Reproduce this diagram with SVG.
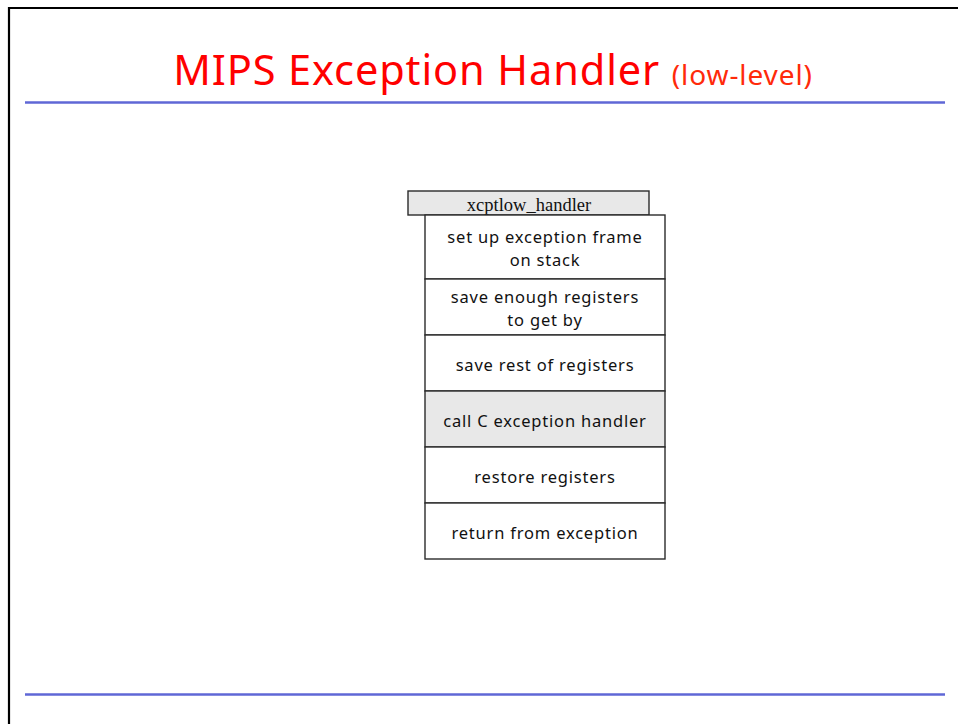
<svg xmlns="http://www.w3.org/2000/svg" width="958" height="724" viewBox="0 0 958 724">
  <style>
    .cell { fill: #ffffff; stroke: #2b2b2b; stroke-width: 1.4; }
    .cell.shade { fill: #e8e8e8; }
    .label { font-family: "Comic Sans MS", "Noto Sans", "DejaVu Sans", sans-serif; font-size: 16.5px; letter-spacing: 0.8px; fill: #111111; text-anchor: middle; }
    .rule { stroke: #5f67d6; stroke-width: 2.6; }
  </style>
  <rect x="0" y="0" width="958" height="724" fill="#ffffff"/>
  <!-- slide frame -->
  <path d="M9 724 V8 H958" fill="none" stroke="#000000" stroke-width="2.2"/>

  <!-- title -->
  <text x="493" y="85" text-anchor="middle" font-family="Comic Sans MS, Noto Sans, DejaVu Sans, sans-serif" fill="#ff0000" letter-spacing="0.9"><tspan font-size="41.5">MIPS Exception Handler </tspan><tspan font-size="28" fill="#ff2a0a">(low-level)</tspan></text>
  <line class="rule" x1="25" y1="102.5" x2="945" y2="102.5"/>
  <line class="rule" x1="25" y1="694.5" x2="945" y2="694.5"/>

  <!-- routine name tab -->
  <g id="header">
    <rect class="cell shade" x="408" y="191" width="241" height="24"/>
    <text x="529" y="210.5" text-anchor="middle" font-family="Liberation Serif, serif" font-size="18.5" fill="#111111">xcptlow_handler</text>
  </g>

  <!-- steps -->
  <g id="step1">
    <rect class="cell" x="425" y="215" width="240" height="64"/>
    <text class="label" x="545" y="242.5">set up exception frame</text>
    <text class="label" x="545" y="265.5">on stack</text>
  </g>
  <g id="step2">
    <rect class="cell" x="425" y="279" width="240" height="56"/>
    <text class="label" x="545" y="302.5">save enough registers</text>
    <text class="label" x="545" y="325.5">to get by</text>
  </g>
  <g id="step3">
    <rect class="cell" x="425" y="335" width="240" height="56"/>
    <text class="label" x="545" y="370.5">save rest of registers</text>
  </g>
  <g id="step4">
    <rect class="cell shade" x="425" y="391" width="240" height="56"/>
    <text class="label" x="545" y="426.5">call C exception handler</text>
  </g>
  <g id="step5">
    <rect class="cell" x="425" y="447" width="240" height="56"/>
    <text class="label" x="545" y="482.5">restore registers</text>
  </g>
  <g id="step6">
    <rect class="cell" x="425" y="503" width="240" height="56"/>
    <text class="label" x="545" y="538.5">return from exception</text>
  </g>
  <g id="connectors"/>
</svg>
